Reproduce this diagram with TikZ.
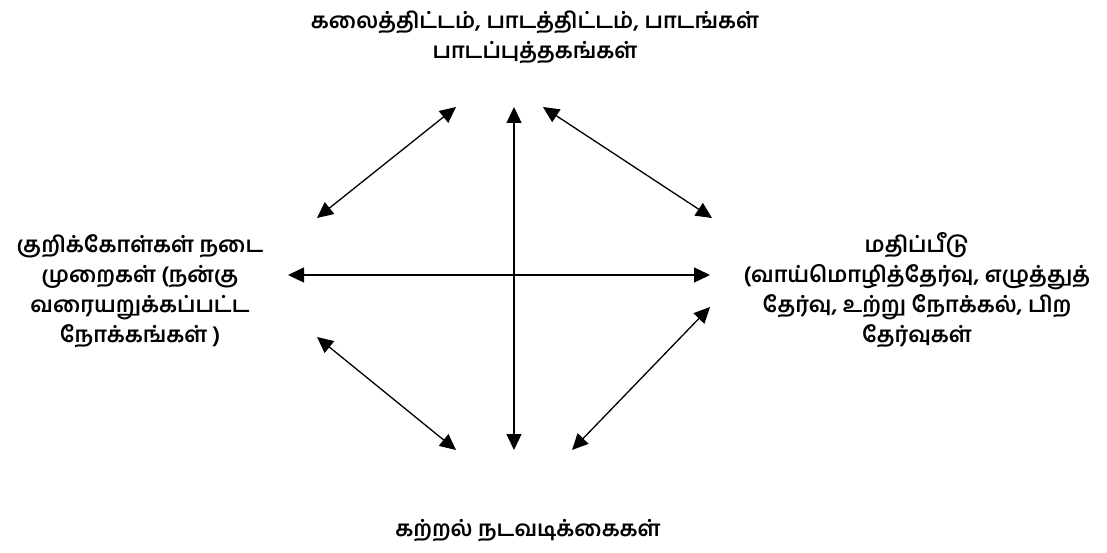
\documentclass[tikz,border=0pt]{standalone}
\usepackage{fontspec}
\newfontfamily\tamilfont[Script=Tamil]{Hind Madurai}
\usetikzlibrary{arrows.meta,positioning}
\tikzset{
    label/.style = {font=\tamilfont\bfseries\fontsize{22}{30}\selectfont, align=center, inner sep=0pt},
    link/.style = {{Triangle[length=16pt,width=15pt]}-{Triangle[length=16pt,width=15pt]}, line width=1.3pt},
}
\begin{document}
\begin{tikzpicture}[x=1pt, y=-1pt]
\useasboundingbox (0,0) rectangle (1107,553);

% Four headings
\node[label] (plan) at (535,37) {கலைத்திட்டம், பாடத்திட்டம், பாடங்கள்\\பாடப்புத்தகங்கள்};
\node[label] (aims) at (140,291) {குறிக்கோள்கள்  நடை\\முறைகள் (நன்கு\\வரையறுக்கப்பட்ட\\நோக்கங்கள் )};
\node[label] (test) at (917,290) {மதிப்பீடு\\(வாய்மொழித்தேர்வு, எழுத்துத்\\தேர்வு, உற்று நோக்கல், பிற\\தேர்வுகள்};
\node[label] (learn) at (528,531) {கற்றல்  நடவடிக்கைகள்};

% Arrow end points
\coordinate (top) at (514,107);
\coordinate (bottom) at (514,450);
\coordinate (left) at (288,275);
\coordinate (right) at (710,275);
\coordinate (ul-a) at (317,218);
\coordinate (ul-b) at (456,107);
\coordinate (ur-a) at (543,107);
\coordinate (ur-b) at (712,218);
\coordinate (ll-a) at (317,337);
\coordinate (ll-b) at (456,450);
\coordinate (lr-a) at (710,307);
\coordinate (lr-b) at (572,450);

% Cross
\draw[link] (top) -- (bottom);
\draw[link] (left) -- (right);

% Diagonals
\draw[link] (ul-a) -- (ul-b);
\draw[link] (ur-a) -- (ur-b);
\draw[link] (ll-a) -- (ll-b);
\draw[link] (lr-a) -- (lr-b);

\end{tikzpicture}
\end{document}
